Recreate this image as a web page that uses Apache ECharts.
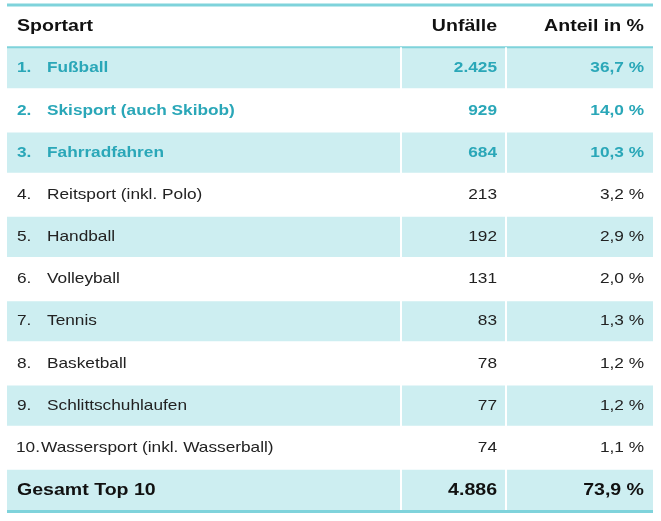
<!DOCTYPE html>
<html><head><meta charset="utf-8">
<script src="https://cdn.jsdelivr.net/npm/echarts@6/dist/echarts.min.js"></script>
<style>html,body{margin:0;padding:0;background:#fff}#c{width:661px;height:521px}</style>
</head><body><div id="c"></div>
<script>
const headers = ['Sportart', 'Unfälle', 'Anteil in %'];
const ranks = ['1.', '2.', '3.', '4.', '5.', '6.', '7.', '8.', '9.', '10.'];
const sports = ['Fußball', 'Skisport (auch Skibob)', 'Fahrradfahren', 'Reitsport (inkl. Polo)', 'Handball', 'Volleyball', 'Tennis', 'Basketball', 'Schlittschuhlaufen', 'Wassersport (inkl. Wasserball)'];
const accidents = ['2.425', '929', '684', '213', '192', '131', '83', '78', '77', '74'];
const shares = ['36,7 %', '14,0 %', '10,3 %', '3,2 %', '2,9 %', '2,0 %', '1,3 %', '1,2 %', '1,2 %', '1,1 %'];
const totalLabel = 'Gesamt Top 10';
const totalAccidents = '4.886';
const totalShare = '73,9 %';

const rowKeys = ['h'].concat(ranks).concat(['t']);
const data = rowKeys.map((k, i) => [i]);
const TEAL = '#2aa7b8', SHADE = '#cdeef1', LINE = '#7fd3db', FONT = 'Liberation Sans, Arial, sans-serif';

function renderItem(params, api) {
  const i = api.value(0);
  const p0 = api.coord([0, i]);
  const bw = api.size([0, 1])[1];
  const top = p0[1] - bw / 2, cy = p0[1];
  const xL = api.coord([0, 0])[0], xR = api.coord([646, 0])[0];
  const c1 = api.coord([393, 0])[0], c2 = api.coord([498, 0])[0];
  const kids = [];
  const txt = (x, s, align, color, bold, size) => kids.push({type: 'text', x: x, y: cy, scaleX: 1.15, style: {x: 0, y: 0, text: s, textAlign: align, textVerticalAlign: 'middle', fill: color, font: (bold ? 'bold ' : '') + (size || 15) + 'px ' + FONT}});
  if (i === 0) {
    kids.push({type: 'rect', shape: {x: xL, y: top - 1.5, width: xR - xL, height: 3}, style: {fill: LINE}});
    kids.push({type: 'rect', shape: {x: xL, y: top + bw - 1, width: xR - xL, height: 3}, style: {fill: LINE}});
    txt(xL + 10, headers[0], 'left', '#111', true, 17);
    txt(xL + 490, headers[1], 'right', '#111', true, 17);
    txt(xL + 637, headers[2], 'right', '#111', true, 17);
  } else {
    const shaded = (i % 2 === 1);
    if (shaded) {
      kids.push({type: 'rect', shape: {x: xL, y: top + 1, width: xR - xL, height: bw - 2}, style: {fill: SHADE}});
      kids.push({type: 'rect', shape: {x: c1, y: top, width: 2, height: bw}, style: {fill: '#fff'}});
      kids.push({type: 'rect', shape: {x: c2, y: top, width: 2, height: bw}, style: {fill: '#fff'}});
    }
    if (i === 11) {
      kids.push({type: 'rect', shape: {x: xL, y: top + bw - 1, width: xR - xL, height: 3}, style: {fill: LINE}});
      txt(xL + 10, totalLabel, 'left', '#111', true, 17);
      txt(xL + 490, totalAccidents, 'right', '#111', true, 17);
      txt(xL + 637, totalShare, 'right', '#111', true, 17);
    } else {
      const r = i - 1;
      const top3 = r < 3;
      const col = top3 ? TEAL : '#222';
      if (r === 9) {
        txt(xL + 9, ranks[r], 'left', col, top3);
        txt(xL + 34, sports[r], 'left', col, top3);
      } else {
        txt(xL + 10, ranks[r], 'left', col, top3);
        txt(xL + 40, sports[r], 'left', col, top3);
      }
      txt(xL + 490, accidents[r], 'right', col, top3);
      txt(xL + 637, shares[r], 'right', col, top3);
    }
  }
  return {type: 'group', children: kids};
}

const chart = echarts.init(document.getElementById('c'));
chart.setOption({
  animation: false,
  grid: {left: 7, right: 8, top: 5, bottom: 10},
  xAxis: {type: 'value', min: 0, max: 646, show: false},
  yAxis: {type: 'category', data: rowKeys, inverse: true, show: false},
  series: [{type: 'custom', renderItem: renderItem, data: data, encode: {x: -1, y: 0}, clip: false}]
});
</script></body></html>
